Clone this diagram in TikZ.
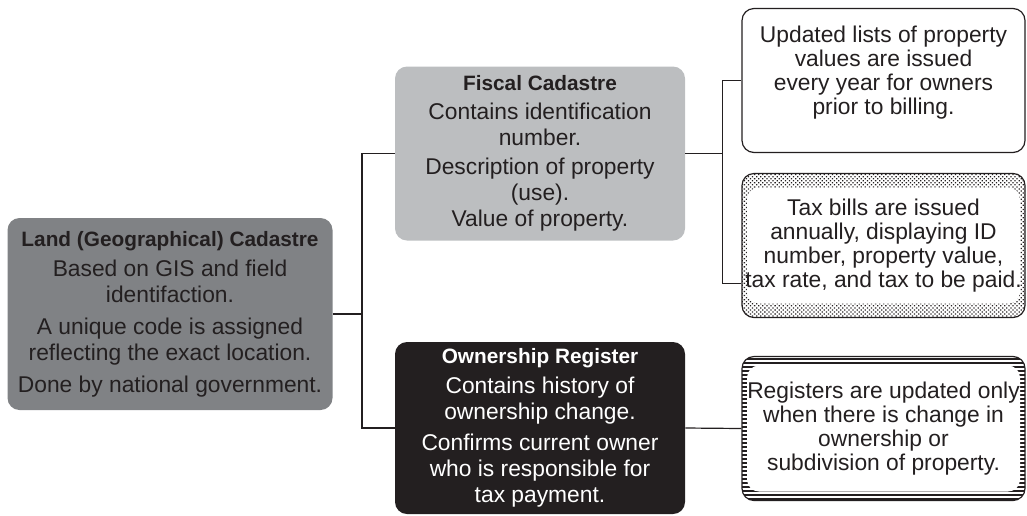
\documentclass[tikz,border=0pt]{standalone}
\usepackage{fontspec}
\setmainfont{Liberation Sans}
\usetikzlibrary{calc,patterns.meta}

\definecolor{landgray}{RGB}{128,130,133}
\definecolor{fiscalgray}{RGB}{188,190,192}
\definecolor{inkblack}{RGB}{35,31,32}

\newcommand{\boxhead}[1]{{\fontsize{10.4}{13}\selectfont\bfseries #1}}

\begin{document}
\begin{tikzpicture}[x=0.5pt,y=-0.5pt,
  box/.style={rounded corners=6pt, align=center, inner sep=0pt, text=inkblack,
    font=\fontsize{11.4}{13}\selectfont},
  leftbox/.style={box, minimum width=145pt, minimum height=87pt},
  rightbox/.style={box, draw=inkblack, line width=0.6pt, minimum width=141.5pt,
    minimum height=72pt, font=\fontsize{11.4}{12}\selectfont},
  link/.style={draw=inkblack, line width=0.6pt}]

\useasboundingbox (0,0) rectangle (1027,515);

% left column
\node[box, fill=landgray, minimum width=162.5pt, minimum height=96pt] (land) at (170,314)
  {\boxhead{Land (Geographical) Cadastre}\\[2pt]
   Based on GIS and field\\ identifaction.\\[3pt]
   A unique code is assigned\\ reflecting the exact location.\\[3pt]
   Done by national government.};

% middle column
\node[leftbox, fill=fiscalgray] (fiscal) at (540,153.5)
  {\boxhead{Fiscal Cadastre}\\[1.5pt]
   Contains identification\\ number.\\[1.5pt]
   Description of property\\ (use).\\
   Value of property.};

\node[leftbox, fill=inkblack, text=white, minimum height=86pt] (owner) at (540,428)
  {\boxhead{Ownership Register}\\[2pt]
   Contains history of\\ ownership change.\\[2.5pt]
   Confirms current owner\\ who is responsible for\\ tax payment.};

% right column
\node[rightbox] (lists) at (883.5,80.5)
  {\raisebox{0.5pt}[0pt][0pt]{\begin{tabular}{@{}c@{}}Updated lists of property\\ values are issued\\
   every year for owners\\ prior to billing.\end{tabular}}};

\node[rightbox, pattern={Dots[distance=1.45pt, angle=45, radius=0.45pt]}, pattern color=inkblack,
  path picture={\fill[white] ($(path picture bounding box.south west)+(2.5pt,7pt)$)
    rectangle ($(path picture bounding box.north east)-(2.5pt,7pt)$);}] (taxbill) at (883.5,245.5)
  {Tax bills are issued\\ annually, displaying ID\\ number, property value,\\
   tax rate, and tax to be paid.};

\node[rightbox, pattern={Lines[distance=2pt, angle=0, line width=0.55pt]}, pattern color=inkblack,
  path picture={\fill[white] ($(path picture bounding box.south west)+(2.5pt,4.5pt)$)
    rectangle ($(path picture bounding box.north east)-(2.5pt,4.5pt)$);}] (registers) at (883.5,428.5)
  {Registers are updated only\\ when there is change in\\ ownership or\\
   subdivision of property.};

% connectors
\draw[link] (land.east) -- ++(29,0) coordinate (jleft) |- (fiscal.west);
\draw[link] (jleft) |- (owner.west);
\draw[link] (fiscal.east) -- ++(37,0) coordinate (jright) |- (lists.west);
\draw[link] (jright) |- ($(taxbill.south west)!0.24!(taxbill.north west)$);
\draw[link] (owner.east) -- (registers.west);

\end{tikzpicture}
\end{document}
